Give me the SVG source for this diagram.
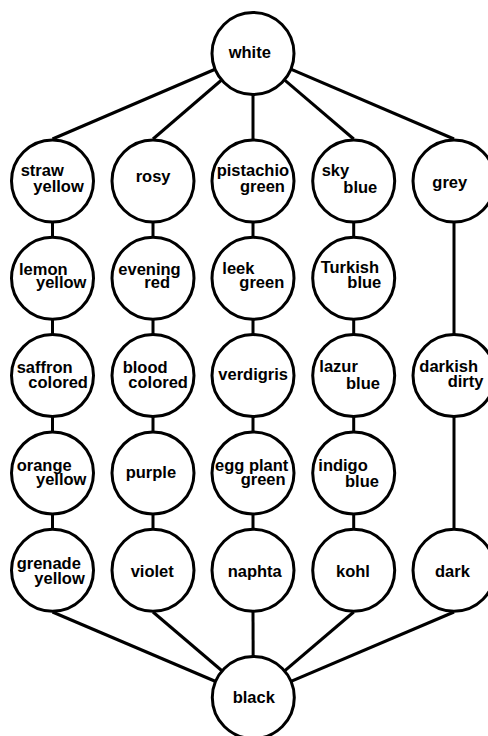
<svg xmlns="http://www.w3.org/2000/svg" width="488" height="736" viewBox="0 0 488 736">
<style>
.n circle{fill:#fff;stroke:#000;stroke-width:3}
.e line{stroke:#000;stroke-width:3}
text{font-family:"Liberation Sans",Arial,sans-serif;font-weight:bold;font-size:16.5px;fill:#000}
</style>
<rect width="488" height="736" fill="#fff"/>
<g class="e" id="connectors">
<line x1="253" y1="53" x2="52.5" y2="139"/>
<line x1="253" y1="53" x2="153" y2="139"/>
<line x1="253" y1="53" x2="253" y2="139"/>
<line x1="253" y1="53" x2="353.7" y2="139"/>
<line x1="253" y1="53" x2="454" y2="139"/>
<line x1="52.5" y1="181" x2="52.5" y2="570"/>
<line x1="153" y1="181" x2="153" y2="570"/>
<line x1="253" y1="181" x2="253" y2="570"/>
<line x1="353.7" y1="181" x2="353.7" y2="570"/>
<line x1="454" y1="181" x2="454" y2="570"/>
<line x1="52.5" y1="612" x2="253.3" y2="697.5"/>
<line x1="153" y1="612" x2="253.3" y2="697.5"/>
<line x1="253" y1="612" x2="253.3" y2="697.5"/>
<line x1="353.7" y1="612" x2="253.3" y2="697.5"/>
<line x1="454" y1="612" x2="253.3" y2="697.5"/>
</g>
<g class="n" id="white"><circle cx="253" cy="53.5" r="41"/><text x="228.7" y="58.3">white</text></g>
<g class="n" id="straw_yellow"><circle cx="52.5" cy="181" r="41"/><text x="20.7" y="175.7">straw</text><text x="33.3" y="191.7">yellow</text></g>
<g class="n" id="rosy"><circle cx="153" cy="181" r="41"/><text x="135.7" y="181.7">rosy</text></g>
<g class="n" id="pistachio_green"><circle cx="253" cy="181" r="41"/><text x="216.7" y="175.7">pistachio</text><text x="240" y="191.7">green</text></g>
<g class="n" id="sky_blue"><circle cx="353.7" cy="181" r="41"/><text x="321.7" y="175.7">sky</text><text x="343.3" y="193.3">blue</text></g>
<g class="n" id="grey"><circle cx="454" cy="181" r="41"/><text x="432.3" y="188.3">grey</text></g>
<g class="n" id="lemon_yellow"><circle cx="52.5" cy="278.3" r="41"/><text x="19" y="275">lemon</text><text x="36" y="288.3">yellow</text></g>
<g class="n" id="evening_red"><circle cx="153" cy="278.3" r="41"/><text x="118.3" y="275">evening</text><text x="144.3" y="288.3">red</text></g>
<g class="n" id="leek_green"><circle cx="253" cy="278.3" r="41"/><text x="222.3" y="274">leek</text><text x="239.3" y="288.3">green</text></g>
<g class="n" id="turkish_blue"><circle cx="353.7" cy="278.3" r="41"/><text x="320.7" y="273.3">Turkish</text><text x="347.3" y="288.3">blue</text></g>
<g class="n" id="saffron_colored"><circle cx="52.5" cy="375.6" r="41"/><text x="16.7" y="373.3">saffron</text><text x="28.3" y="387.7">colored</text></g>
<g class="n" id="blood_colored"><circle cx="153" cy="375.6" r="41"/><text x="122.7" y="373.3">blood</text><text x="128.3" y="387.7">colored</text></g>
<g class="n" id="verdigris"><circle cx="253" cy="375.6" r="41"/><text x="218.3" y="380">verdigris</text></g>
<g class="n" id="lazur_blue"><circle cx="353.7" cy="375.6" r="41"/><text x="319.3" y="372.3">lazur</text><text x="346" y="389">blue</text></g>
<g class="n" id="darkish_dirty"><circle cx="454" cy="375.6" r="41"/><text x="419.3" y="371.7">darkish</text><text x="447.7" y="386.7">dirty</text></g>
<g class="n" id="orange_yellow"><circle cx="52.5" cy="472.9" r="41"/><text x="16.7" y="471">orange</text><text x="36" y="485">yellow</text></g>
<g class="n" id="purple"><circle cx="153" cy="472.9" r="41"/><text x="125.7" y="477.7">purple</text></g>
<g class="n" id="egg_plant_green"><circle cx="253" cy="472.9" r="41"/><text x="215" y="471">egg plant</text><text x="240.7" y="485">green</text></g>
<g class="n" id="indigo_blue"><circle cx="353.7" cy="472.9" r="41"/><text x="318.3" y="471">indigo</text><text x="345" y="486.7">blue</text></g>
<g class="n" id="grenade_yellow"><circle cx="52.5" cy="570.2" r="41"/><text x="16.7" y="569.3">grenade</text><text x="34.3" y="584.3">yellow</text></g>
<g class="n" id="violet"><circle cx="153" cy="570.2" r="41"/><text x="130.7" y="576.7">violet</text></g>
<g class="n" id="naphta"><circle cx="253" cy="570.2" r="41"/><text x="227.7" y="576.7">naphta</text></g>
<g class="n" id="kohl"><circle cx="353.7" cy="570.2" r="41"/><text x="336" y="576.7">kohl</text></g>
<g class="n" id="dark"><circle cx="454" cy="570.2" r="41"/><text x="435" y="576.7">dark</text></g>
<g class="n" id="black"><circle cx="253.3" cy="697.5" r="41"/><text x="232.7" y="702.7">black</text></g>
</svg>
